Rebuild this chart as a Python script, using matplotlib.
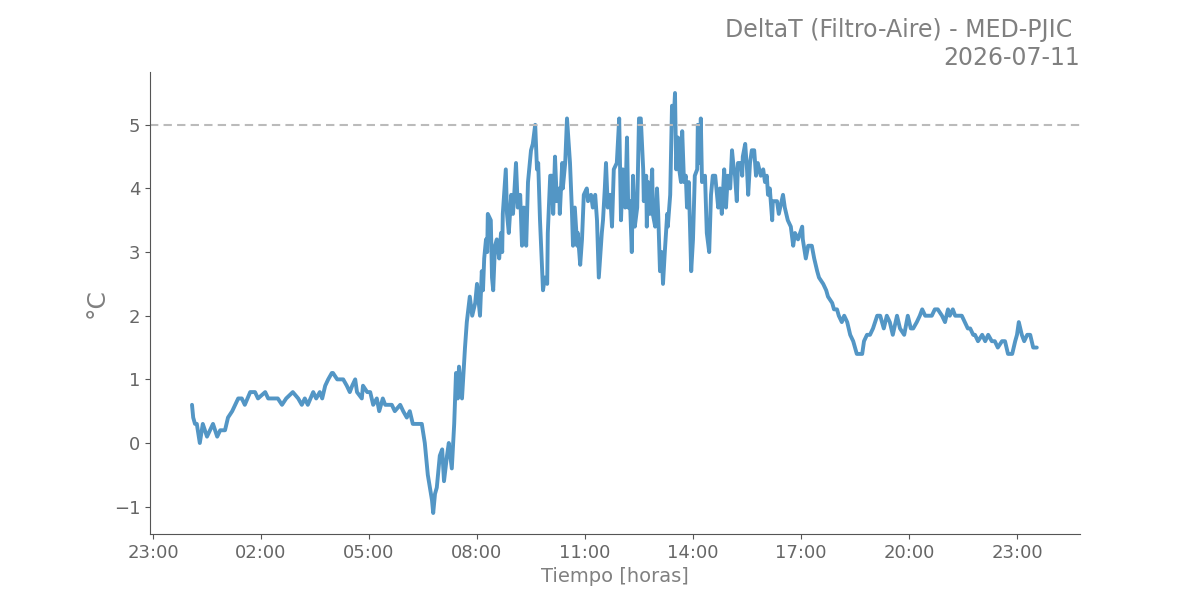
import numpy as np
import pandas as pd
import matplotlib
matplotlib.use("Agg")
import matplotlib.pyplot as plt
import matplotlib.dates as mdates

# minutos desde las 00:00 y deltaT en grados C
minutos = [5, 7, 10, 13, 18, 23, 30, 35, 40, 47, 52, 60, 65, 72, 77, 82, 88, 93, 102, 110,
           115, 127, 132, 148, 155, 162, 173, 182, 188, 193, 198, 207, 212, 218, 222, 227, 232, 238,
           240, 247, 252, 257, 263, 268, 272, 277, 280, 288, 290, 297, 302, 307, 313, 317, 323, 327,
           332, 338, 343, 352, 357, 363, 368, 373, 382, 388, 393, 397, 398, 405, 407, 410, 413, 418,
           422, 425, 430, 433, 438, 442, 445, 448, 450, 455, 460, 463,
           468, 472, 477, 480, 485, 488, 490, 492, 495, 497, 498, 503, 505, 507, 510, 513, 517, 520,
           522, 523, 528, 530, 533, 537, 540, 542, 545, 548, 552, 555, 558, 562, 565, 570, 573, 577,
           580, 582, 585, 590, 593, 597, 598, 602, 605, 607, 610, 613, 617, 618, 622, 623, 627, 630,
           635, 638, 640, 643, 647, 648, 652, 655, 658, 663, 665, 670, 673, 677, 680, 683, 688, 690,
           693, 695, 698, 702, 705, 708, 713, 717,
           720, 723, 727, 730, 732, 735, 738, 740, 743, 747, 750, 753, 757, 758, 762, 763, 765, 768,
           772, 773, 777, 780, 782, 785, 788, 790, 793, 797, 798, 802, 805, 808, 810, 812, 815, 817,
           820, 822, 825, 828, 830, 833, 837, 840, 843, 847, 848, 852, 853, 855, 860, 863, 867, 870,
           873, 877, 882, 885, 888, 892, 895, 898, 902, 905, 907, 910, 913, 915, 920, 922, 923, 927,
           930, 932, 935, 938, 942, 945, 948, 953, 957,
           960, 963, 965, 968, 972, 973, 980, 983, 990, 993, 998, 1003, 1007, 1010, 1015, 1022, 1023,
           1028, 1032, 1038, 1042, 1047, 1050, 1057, 1062, 1065, 1072, 1075, 1080, 1083, 1088, 1092,
           1097, 1102, 1107, 1113, 1122, 1125, 1130, 1135, 1140, 1147, 1152, 1158, 1163, 1168, 1173,
           1180, 1185, 1192,
           1198, 1203, 1207, 1213, 1218, 1222, 1227, 1232, 1238, 1243, 1248, 1255, 1260, 1265, 1268,
           1273, 1277, 1282, 1288, 1293, 1298, 1302, 1307, 1310, 1315, 1322, 1327, 1332, 1338, 1343,
           1348, 1355, 1360, 1365, 1372, 1377, 1380, 1383, 1388, 1392, 1397, 1402, 1407, 1413]
delta_t = [0.6, 0.4, 0.3, 0.3, 0.0, 0.3, 0.1, 0.2, 0.3, 0.1, 0.2, 0.2, 0.4, 0.5, 0.6, 0.7, 0.7, 0.6, 0.8, 0.8,
           0.7, 0.8, 0.7, 0.7, 0.6, 0.7, 0.8, 0.7, 0.6, 0.7, 0.6, 0.8, 0.7, 0.8, 0.7, 0.9, 1.0, 1.1,
           1.1, 1.0, 1.0, 1.0, 0.9, 0.8, 0.9, 1.0, 0.8, 0.7, 0.9, 0.8, 0.8, 0.6, 0.7, 0.5, 0.7, 0.6,
           0.6, 0.6, 0.5, 0.6, 0.5, 0.4, 0.5, 0.3, 0.3, 0.3, 0.0, -0.4, -0.5, -0.9, -1.1, -0.8, -0.7, -0.2,
           -0.1, -0.6, -0.2, 0.0, -0.4, 0.3, 1.1, 0.7, 1.2, 0.7, 1.5, 1.9,
           2.3, 2.0, 2.2, 2.5, 2.0, 2.7, 2.4, 2.9, 3.2, 3.0, 3.6, 3.5, 2.6, 2.4, 3.1, 3.2, 2.9, 3.3,
           3.0, 3.6, 4.3, 3.6, 3.3, 3.9, 3.6, 3.9, 4.4, 3.7, 3.9, 3.1, 3.7, 3.1, 4.1, 4.6, 4.7, 5.0,
           4.3, 4.4, 3.5, 2.4, 2.6, 2.5, 3.3, 4.2, 4.2, 3.6, 4.5, 3.8, 4.0, 3.6, 4.4, 4.0, 4.4, 5.1,
           4.4, 3.7, 3.1, 3.7, 3.1, 3.3, 2.8, 3.2, 3.9, 4.0, 3.8, 3.9, 3.7, 3.9, 3.5, 2.6, 3.3, 3.5,
           4.0, 4.4, 3.7, 3.9, 3.4, 4.3, 4.4, 5.1,
           3.5, 4.3, 3.7, 4.8, 3.7, 3.8, 3.0, 4.2, 3.4, 3.7, 5.1, 5.1, 4.3, 3.8, 4.2, 3.4, 4.1, 3.6,
           4.3, 3.6, 3.4, 4.0, 3.6, 2.7, 3.0, 2.5, 3.0, 3.6, 3.4, 3.9, 5.3, 5.1, 5.5, 4.3, 4.8, 4.3,
           4.1, 4.9, 4.1, 4.2, 3.7, 4.1, 2.7, 3.2, 4.2, 4.3, 5.0, 4.4, 5.1, 4.1, 4.2, 3.3, 3.0, 3.9,
           4.2, 4.2, 3.7, 4.0, 3.6, 4.3, 3.7, 4.2, 4.0, 4.6, 4.4, 4.2, 3.8, 4.4, 4.4, 4.2, 4.5, 4.7,
           4.3, 3.9, 4.4, 4.6, 4.6, 4.2, 4.4, 4.2, 4.3,
           4.1, 4.2, 3.9, 4.0, 3.5, 3.8, 3.8, 3.6, 3.9, 3.7, 3.5, 3.4, 3.1, 3.3, 3.2, 3.4, 3.2,
           2.9, 3.1, 3.1, 2.9, 2.7, 2.6, 2.5, 2.4, 2.3, 2.2, 2.1, 2.1, 2.0, 1.9, 2.0,
           1.9, 1.7, 1.6, 1.4, 1.4, 1.6, 1.7, 1.7, 1.8, 2.0, 2.0, 1.8, 2.0, 1.9, 1.7,
           2.0, 1.8, 1.7,
           2.0, 1.8, 1.8, 1.9, 2.0, 2.1, 2.0, 2.0, 2.0, 2.1, 2.1, 2.0, 1.9, 2.1, 2.0,
           2.1, 2.0, 2.0, 2.0, 1.9, 1.8, 1.8, 1.7, 1.7, 1.6, 1.7, 1.6, 1.7, 1.6, 1.6,
           1.5, 1.6, 1.6, 1.4, 1.4, 1.6, 1.7, 1.9, 1.7, 1.6, 1.7, 1.7, 1.5, 1.5]

fecha = "2026-07-11"
umbral = 5
titulo = "DeltaT (Filtro-Aire) - MED-PJIC \n" + fecha

base = pd.Timestamp(fecha)
tiempos = base + pd.to_timedelta(minutos, unit="min")

gris = "#808080"
fig = plt.figure(figsize=(12, 6), dpi=100)
ax = fig.add_axes([0.125, 0.11, 0.775, 0.77])

ax.plot(tiempos, delta_t, color="#4a90c2", linewidth=2.8, alpha=0.95, solid_capstyle="round")
ax.axhline(umbral, color="#bbbbbb", linestyle="--", linewidth=1.5, dashes=(4, 2.5))

ax.set_xlim(base - pd.Timedelta(minutes=65), base + pd.Timedelta(minutes=1485))
ax.set_ylim(-1.43, 5.83)
ax.set_yticks(np.arange(-1, 6, 1))
ax.xaxis.set_major_locator(mdates.HourLocator(byhour=[23, 2, 5, 8, 11, 14, 17, 20]))
ax.xaxis.set_major_formatter(mdates.DateFormatter("%H:%M"))

for lado in ["top", "right"]:
    ax.spines[lado].set_visible(False)
for lado in ["left", "bottom"]:
    ax.spines[lado].set_color("#555555")
    ax.spines[lado].set_linewidth(0.8)
ax.tick_params(colors="#555555", labelsize=13, labelcolor="#666666")

ax.set_xlabel("Tiempo [horas]", fontsize=14, color=gris)
ax.set_ylabel("°C", fontsize=18, color=gris, labelpad=4)
ax.set_title(titulo, loc="right", fontsize=17, color=gris, pad=5)

fig.savefig("out.png", dpi=100)
